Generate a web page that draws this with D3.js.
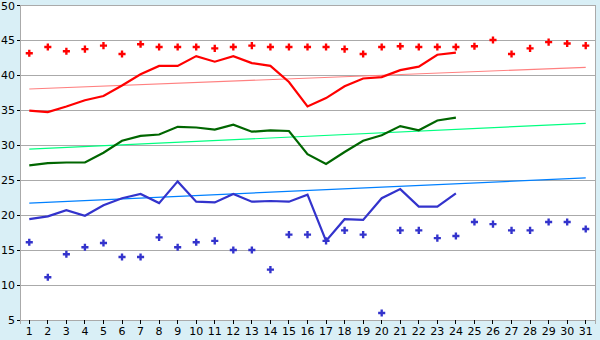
<!DOCTYPE html>
<html>
<head>
<meta charset="utf-8">
<script src="https://cdn.jsdelivr.net/npm/d3@7"></script>
<style>
	body { margin: 0; background: #d9eff6; }
	#canvas { width: 600px; height: 340px; }
	text { font-family: "DejaVu Sans", sans-serif; font-size: 10px; fill: #000; }
</style>
</head>
<body>
<div id="canvas"></div>
<script>
// days of month
const days = d3.range(1, 32);
const yTicks = [5, 10, 15, 20, 25, 30, 35, 40, 45, 50];

// record highs (points)
const maxPoints = [43.1, 44.0, 43.4, 43.7, 44.2, 43.0, 44.4, 44.0, 44.0, 44.0,
	43.8, 44.0, 44.2, 44.0, 44.0, 44.0, 44.0, 43.7, 43.0, 44.0,
	44.1, 44.0, 44.0, 44.0, 44.1, 45.0, 43.0, 43.8, 44.7, 44.5, 44.2];
// daily max (red line, days 1-24)
const maxLine = [34.9, 34.7, 35.5, 36.4, 37.0, 38.5, 40.1, 41.3, 41.3, 42.7,
	41.9, 42.7, 41.7, 41.3, 39.0, 35.5, 36.7, 38.4, 39.5, 39.7,
	40.7, 41.2, 42.9, 43.2];
// daily mean (green line)
const meanLine = [27.1, 27.4, 27.5, 27.5, 28.9, 30.6, 31.3, 31.5, 32.6, 32.5,
	32.2, 32.9, 31.9, 32.1, 32.0, 28.7, 27.3, 29.0, 30.6, 31.4,
	32.7, 32.1, 33.5, 33.9];
// daily min (blue line)
const minLine = [19.4, 19.8, 20.7, 19.9, 21.4, 22.4, 23.0, 21.7, 24.8, 21.9,
	21.8, 23.0, 21.9, 22.0, 21.9, 22.9, 16.3, 19.4, 19.3, 22.4,
	23.7, 21.2, 21.2, 23.1];
// record lows (points)
const minPoints = [16.1, 11.1, 14.4, 15.4, 16.0, 14.0, 14.0, 16.8, 15.4, 16.1,
	16.3, 15.0, 15.0, 12.2, 17.2, 17.2, 16.3, 17.8, 17.2, 6.0,
	17.8, 17.8, 16.7, 17.0, 19.0, 18.7, 17.8, 17.8, 19.0, 19.0, 18.0];
// trend lines: value at day 1 and day 31
const maxTrend = [38.0, 41.1];
const meanTrend = [29.4, 33.1];
const minTrend = [21.7, 25.3];

const W = 600, H = 340, M = {t: 5, r: 5, b: 20, l: 20};

const svg = d3.select('#canvas').append('svg')
	.attr('width', W)
	.attr('height', H);

const x = d3.scaleBand().domain(days).range([M.l, W - M.r]);
const y = d3.scaleLinear().domain([5, 50]).range([H - M.b, M.t]);
const cx = d => x(d) + x.bandwidth() / 2;

// plot background
svg.append('rect')
	.attr('x', M.l).attr('y', M.t)
	.attr('width', W - M.r - M.l).attr('height', H - M.b - M.t)
	.attr('fill', '#fff')
	.attr('stroke', '#aaa')
	.attr('shape-rendering', 'crispEdges');

// grid
svg.append('g').selectAll('line').data(yTicks)
	.enter().append('line')
	.attr('x1', M.l).attr('x2', W - M.r)
	.attr('y1', d => y(d)).attr('y2', d => y(d))
	.attr('stroke', '#aaa')
	.attr('shape-rendering', 'crispEdges');

// axes
const yAxis = svg.append('g')
	.attr('transform', 'translate(' + M.l + ',0)')
	.call(d3.axisLeft(y).tickValues(yTicks).tickSize(3).tickPadding(2));
const xAxis = svg.append('g')
	.attr('transform', 'translate(0,' + (H - M.b) + ')')
	.call(d3.axisBottom(x).tickSize(4).tickPadding(3));
[yAxis, xAxis].forEach(a => {
	a.select('.domain').attr('stroke', '#aaa').attr('shape-rendering', 'crispEdges');
	a.selectAll('.tick line').attr('stroke', '#000').attr('shape-rendering', 'crispEdges');
	a.selectAll('text').attr('font-family', null).attr('font-size', null);
});
yAxis.selectAll('text').style('font-size', '11px');
yAxis.selectAll('.tick').filter(d => d === 50).select('text').attr('dy', '0.45em');
xAxis.selectAll('text').style('font-size', '11px');

// trend lines
const trends = [
	{v: maxTrend, c: '#ff8080'},
	{v: meanTrend, c: '#00ff80'},
	{v: minTrend, c: '#0080ff'}
];
svg.append('g').selectAll('line').data(trends)
	.enter().append('line')
	.attr('x1', cx(1)).attr('x2', cx(31))
	.attr('y1', d => y(d.v[0])).attr('y2', d => y(d.v[1]))
	.attr('stroke', d => d.c)
	.attr('stroke-width', 1.2);

// main lines
const line = d3.line().x((d, i) => cx(days[i])).y(d => y(d));
const series = [
	{v: maxLine, c: '#ff0000'},
	{v: meanLine, c: '#006600'},
	{v: minLine, c: '#3333cc'}
];
svg.append('g').selectAll('path').data(series)
	.enter().append('path')
	.attr('d', d => line(d.v))
	.attr('fill', 'none')
	.attr('stroke', d => d.c)
	.attr('stroke-width', 2.2);

// record markers
const sym = d3.symbol().type(d3.symbolCross).size(28);
const pts = [
	{v: maxPoints, c: '#ff0000'},
	{v: minPoints, c: '#3333cc'}
];
pts.forEach(p => {
	svg.append('g').selectAll('path').data(p.v)
		.enter().append('path')
		.attr('d', sym)
		.attr('transform', (d, i) => 'translate(' + cx(days[i]) + ',' + y(d) + ')')
		.attr('fill', p.c);
});
</script>
</body>
</html>
